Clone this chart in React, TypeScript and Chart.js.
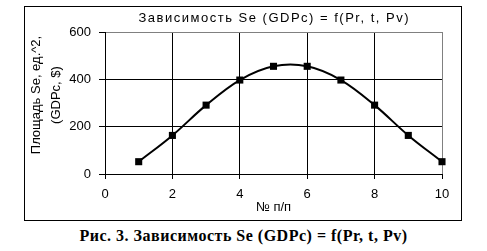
import React, { useEffect, useRef } from "react";
import { Chart, registerables } from "chart.js";

Chart.register(...registerables);

const xValues = [1, 2, 3, 4, 5, 6, 7, 8, 9, 10];
const seValues = [52, 163, 291, 397, 455, 455, 397, 291, 163, 52];
const chartTitle = "Зависимость Se (GDPc) = f(Pr, t, Pv)";
const yTitle = ["Площадь Se, ед.^2,", "(GDPc, $)"];
const xTitle = "№ п/п";
const caption = "Рис. 3. Зависимость Se (GDPc) = f(Pr, t, Pv)";
const xMin = 0, xMax = 10, xStep = 2;
const yMin = 0, yMax = 600, yStep = 200;

const FONT = "'Liberation Sans', Arial, sans-serif";

const textPlugin = {
  id: "customTexts",
  afterDraw(chart: any) {
    const { ctx, chartArea } = chart;
    ctx.save();
    ctx.fillStyle = "#000";
    // chart title, centred over the plot area
    ctx.font = `13px ${FONT}`;
    (ctx as any).letterSpacing = "1.5px";
    ctx.textAlign = "center";
    ctx.textBaseline = "alphabetic";
    const cx = (chartArea.left + chartArea.right) / 2;
    ctx.fillText(chartTitle, cx + 0.75, 15);
    // y axis title, two rotated lines
    (ctx as any).letterSpacing = "0px";
    const cy = (chartArea.top + chartArea.bottom) / 2 - 8;
    yTitle.forEach((line, i) => {
      ctx.save();
      ctx.translate(15 + i * 20, cy);
      ctx.rotate(-Math.PI / 2);
      ctx.fillText(line, 0, 0);
      ctx.restore();
    });
    ctx.restore();
  },
};

export default function App() {
  const ref = useRef<HTMLCanvasElement | null>(null);

  useEffect(() => {
    if (!ref.current) return;
    const chart = new Chart(ref.current, {
      type: "line",
      data: {
        datasets: [
          {
            data: xValues.map((x, i) => ({ x, y: seValues[i] })),
            borderColor: "#000",
            backgroundColor: "#000",
            borderWidth: 2,
            tension: 0.35,
            pointStyle: "rect",
            pointRadius: 5,
            pointBorderWidth: 0,
            pointBackgroundColor: "#000",
            clip: false,
          },
        ],
      },
      options: {
        animation: false,
        responsive: false,
        maintainAspectRatio: false,
        layout: { padding: { left: 0, right: 19, top: 25, bottom: 0 } },
        plugins: {
          legend: { display: false },
          tooltip: { enabled: false },
          title: { display: false },
        },
        scales: {
          x: {
            type: "linear",
            min: xMin,
            max: xMax,
            afterFit: (s: any) => {
              s.height = 46;
            },
            ticks: {
              stepSize: xStep,
              color: "#000",
              padding: 7.2,
              maxRotation: 0,
              font: { family: FONT, size: 13, lineHeight: 1.2 },
            },
            grid: {
              color: (c: any) => (c.tick && c.tick.value === xMax ? "#808080" : "#000"),
              tickColor: "#000",
              tickLength: 5,
              lineWidth: 1,
            },
            border: { display: true, color: "#000", width: 1 },
            title: {
              display: true,
              text: xTitle,
              color: "#000",
              font: { family: FONT, size: 13, lineHeight: 1.2 },
              padding: { top: 0, bottom: 5.2 },
            },
          },
          y: {
            type: "linear",
            min: yMin,
            max: yMax,
            afterFit: (s: any) => {
              s.width = 80;
            },
            ticks: {
              stepSize: yStep,
              color: "#000",
              padding: 8,
              font: { family: FONT, size: 13, lineHeight: 1.2 },
            },
            grid: {
              color: (c: any) => (c.tick && c.tick.value === yMax ? "#808080" : "#000"),
              tickColor: "#000",
              tickLength: 6,
              lineWidth: 1,
            },
            border: { display: true, color: "#000", width: 1 },
            title: { display: false },
          },
        },
      },
      plugins: [textPlugin],
    });
    return () => chart.destroy();
  }, []);

  return (
    <div style={{ position: "absolute", left: 0, top: 0, width: 487, height: 251, background: "#fff" }}>
      <div
        style={{
          position: "absolute",
          left: 24,
          top: 6,
          width: 436,
          height: 213,
          border: "1px solid #000",
          background: "#fff",
        }}
      >
        <canvas ref={ref} width={436} height={213} style={{ display: "block", width: 436, height: 213 }} />
      </div>
      <div
        style={{
          position: "absolute",
          left: 0,
          top: 227,
          width: 487,
          textAlign: "center",
          fontFamily: "'Liberation Serif', 'Times New Roman', serif",
          fontWeight: "bold",
          fontSize: 16,
          letterSpacing: "0.5px",
          lineHeight: "18px",
          color: "#000",
          whiteSpace: "nowrap",
        }}
      >
        {caption}
      </div>
    </div>
  );
}
